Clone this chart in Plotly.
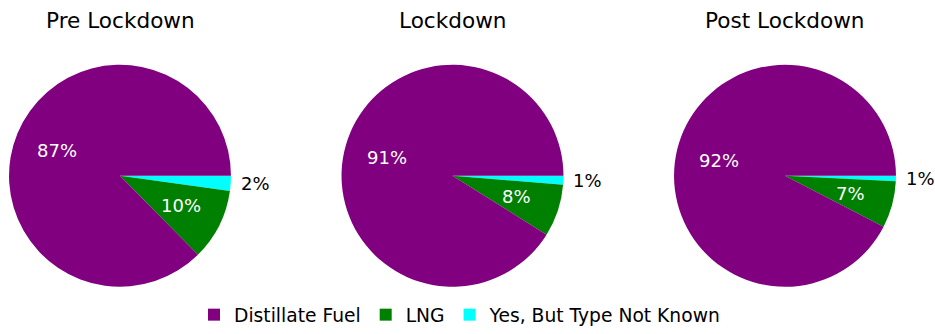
import math
import plotly.graph_objects as go

# Fuel type share of vessels (%) in each period
periods = ["Pre Lockdown", "Lockdown", "Post Lockdown"]
fuel_types = ["Yes, But Type Not Known", "LNG", "Distillate Fuel"]
pre_lockdown = [2.2, 10.4, 87.4]
lockdown = [1.3, 7.6, 91.1]
post_lockdown = [0.8, 6.8, 92.4]
series = [pre_lockdown, lockdown, post_lockdown]

slice_colors = ["#00FFFF", "#008000", "#800080"]
label_colors = ["black", "white", "white"]

W, H = 935, 334
centers_x = [120, 452.5, 785]
center_y = 179
radius = 113
FONT = "DejaVu Sans"

fig = go.Figure()
annotations = []

for i, (name, vals) in enumerate(zip(periods, series)):
    cx = centers_x[i]
    fig.add_trace(go.Pie(
        labels=fuel_types,
        values=vals,
        sort=False,
        direction="clockwise",
        rotation=90,
        textinfo="none",
        hoverinfo="label+percent",
        marker=dict(colors=slice_colors, line=dict(width=0)),
        domain=dict(
            x=[(cx - radius) / W, (cx + radius) / W],
            y=[1 - (center_y + radius) / H, 1 - (center_y - radius) / H],
        ),
        showlegend=(i == 0),
    ))

    # period title above each pie
    annotations.append(dict(
        text=name, x=cx / W, y=1 - 20.5 / H, xref="paper", yref="paper",
        showarrow=False, font=dict(size=21.6, color="black", family=FONT),
        xanchor="center", yanchor="middle",
    ))

    # percentage labels placed along each slice's mid angle
    total = sum(vals)
    start = 0.0
    for j, v in enumerate(vals):
        frac = v / total
        mid = -(start + frac / 2) * 2 * math.pi
        start += frac
        if j == 0:
            k = 1.05
            xanchor = "left"
        else:
            k = 0.6
            xanchor = "center"
        px = cx + k * radius * math.cos(mid)
        py = center_y - k * radius * math.sin(mid)
        if j == 0:
            px = cx + k * radius
        annotations.append(dict(
            text=f"{v:.0f}%", x=px / W, y=1 - py / H,
            xref="paper", yref="paper", showarrow=False,
            font=dict(size=18, color=label_colors[j], family=FONT),
            xanchor=xanchor, yanchor="middle",
        ))

fig.update_layout(
    width=W, height=H,
    margin=dict(l=0, r=0, t=0, b=0),
    paper_bgcolor="white",
    plot_bgcolor="white",
    font=dict(family=FONT, size=18, color="black"),
    annotations=annotations,
    legend=dict(
        orientation="h",
        traceorder="reversed",
        x=460 / W, xanchor="center",
        y=1 - 321 / H, yanchor="middle",
        font=dict(size=18.7, family=FONT),
        bgcolor="rgba(0,0,0,0)",
    ),
)

fig.write_html("out.html")
